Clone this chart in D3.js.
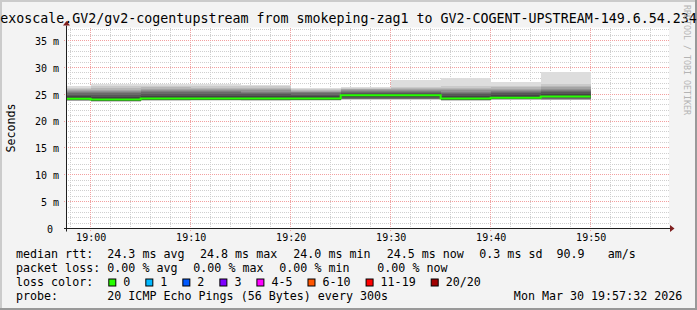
<!DOCTYPE html>
<html>
<head>
<meta charset="utf-8">
<script src="https://cdn.jsdelivr.net/npm/d3@7"></script>
<style>
body { margin: 0; background: #f3f3f3; }
svg text { font-family: "DejaVu Sans Mono", monospace; white-space: pre; }
</style>
</head>
<body>
<svg id="chart"></svg>
<script>
// time window of the graph and the 5 minute steps
const timeStart = "18:57:38";
const timeEnd = "19:57:50";
const stepStarts = ["18:55","19:00","19:05","19:10","19:15","19:20","19:25","19:30","19:35","19:40","19:45"];
const stepEnd = "19:50";

// median rtt per step (ms)
const medians = [24.15, 24.0, 24.2, 24.2, 24.2, 24.2, 24.8, 24.8, 24.2, 24.35, 24.6];
// lost pings per step
const losses = [0, 0, 0, 0, 0, 0, 0, 0, 0, 0, 0];
// the 20 sorted pings of each step (ms)
const pings = [
    [23.7,23.75,23.8,23.83,23.85,23.87,23.89,23.91,23.95,24.15, 24.25,24.6,24.95,25.2,25.4,25.55,25.75,25.95,26.2,26.5],
    [23.55,23.6,23.65,23.68,23.7,23.72,23.74,23.76,23.8,24.0, 24.1,24.5,24.9,25.2,25.4,25.6,25.8,26.1,26.45,26.9],
    [23.75,23.8,23.85,23.88,23.9,23.92,23.94,23.96,24.0,24.2, 24.3,24.7,25.1,25.4,25.6,25.8,26.0,26.3,26.6,27.0],
    [23.8,23.85,23.88,23.9,23.92,23.94,23.96,23.98,24.02,24.2, 24.3,24.7,25.1,25.4,25.6,25.8,26.0,26.25,26.55,26.95],
    [23.75,23.8,23.85,23.88,23.9,23.92,23.94,23.96,24.0,24.2, 24.3,24.65,25.0,25.3,25.5,25.7,25.9,26.15,26.45,26.8],
    [23.8,23.85,23.88,23.9,23.92,23.94,23.96,23.98,24.02,24.2, 24.3,24.6,24.9,25.15,25.35,25.5,25.65,25.8,26.0,26.2],
    [23.95,24.0,24.03,24.05,24.08,24.1,24.15,24.25,24.45,24.8, 24.85,25.05,25.25,25.45,25.6,25.75,25.9,26.0,26.15,26.3],
    [23.95,24.0,24.03,24.05,24.08,24.1,24.15,24.25,24.45,24.8, 24.85,25.05,25.25,25.45,25.6,25.75,25.9,26.1,26.4,27.7],
    [23.75,23.8,23.85,23.88,23.9,23.92,23.94,23.96,24.0,24.2, 24.3,24.65,25.0,25.3,25.5,25.7,25.95,26.25,26.6,28.1],
    [23.9,23.95,24.0,24.03,24.05,24.07,24.09,24.11,24.15,24.35, 24.45,24.8,25.15,25.45,25.65,25.85,26.05,26.3,26.6,27.2],
    [23.85,23.9,23.95,24.0,24.05,24.1,24.15,24.25,24.4,24.6, 24.7,25.0,25.35,25.65,25.85,26.05,26.3,26.6,27.0,29.1]
];

const yMax = 37.43;
const yTicks = [0, 5, 10, 15, 20, 25, 30, 35];

// loss colour legend
const lossLabels = ["0", "1", "2", "3", "4-5", "6-10", "11-19", "20/20"];
const lossLimits = [0, 1, 2, 3, 5, 10, 19, 20];
const lossColors = ["#26ff00", "#00b8ff", "#0059ff", "#7e00ff", "#ff00ff", "#ff5500", "#ff0000", "#a00000"];

// texts
const title = "exoscale.GV2/gv2-cogentupstream from smokeping-zag1 to GV2-COGENT-UPSTREAM-149.6.54.234";
const yTitle = "Seconds";
const watermark = "RRDTOOL / TOBI OETIKER";
const rttRow = ["median rtt:", "24.3 ms avg", "24.8 ms max", "24.0 ms min", "24.5 ms now", "0.3 ms sd", "90.9", "am/s"];
const lossRow = ["packet loss:", "0.00 % avg", "0.00 % max", "0.00 % min", "0.00 % now"];
const probeRow = ["probe:", "20 ICMP Echo Pings (56 Bytes) every 300s"];
const stamp = "Mon Mar 30 19:57:32 2026";


class SmokeChart {

    constructor( config ) {
        this.config = {
            parent: config.parent,
            width: config.width || 697,
            height: config.height || 310,
            plot: config.plot || {left: 67, right: 669, top: 27.5, bottom: 228.5},
        }
        this.init();
    }

    init() {
        let self = this;
        let p = self.config.plot;

        self.svg = d3.select( self.config.parent )
            .attr('width', self.config.width)
            .attr('height', self.config.height);

        const parseT = d3.timeParse("%H:%M:%S");
        self.parseStep = d3.timeParse("%H:%M");

        self.x = d3.scaleTime()
            .domain([parseT(timeStart), parseT(timeEnd)])
            .range([p.left, p.right]);
        self.y = d3.scaleLinear()
            .domain([0, yMax])
            .range([p.bottom, p.top]);
    }

    render() {
        let self = this;
        let p = self.config.plot;
        let W = self.config.width, H = self.config.height;
        const x = self.x, y = self.y;

        // background and frame
        self.svg.append("rect").attr("width", W).attr("height", H).attr("fill", "#f3f3f3");
        self.svg.append("path").attr("d", `M0,0H${W}V2H2V${H}H0Z`).attr("fill", "#cbcbcb");
        self.svg.append("path").attr("d", `M${W},${H}H0V${H-2}H${W-2}V0H${W}Z`).attr("fill", "#999999");
        self.svg.append("rect")
            .attr("x", p.left).attr("y", p.top)
            .attr("width", p.right - p.left).attr("height", p.bottom - p.top)
            .attr("fill", "#ffffff");

        // grid
        const grid = self.svg.append("g").attr("shape-rendering", "crispEdges").attr("stroke-dasharray", "1,1");
        const minorY = d3.range(1, Math.floor(yMax) + 1).filter(v => v % 5 != 0);
        grid.selectAll(".hmin").data(minorY).enter().append("line")
            .attr("x1", p.left - 1).attr("x2", p.right)
            .attr("y1", d => y(d)).attr("y2", d => y(d))
            .attr("stroke", "#cfcfcf");
        const minorX = d3.timeMinute.every(2).range(x.domain()[0], x.domain()[1]).filter(d => d.getMinutes() % 10 != 0);
        grid.selectAll(".vmin").data(minorX).enter().append("line")
            .attr("x1", d => x(d)).attr("x2", d => x(d))
            .attr("y1", p.top).attr("y2", p.bottom + 1)
            .attr("stroke", "#cfcfcf");
        grid.selectAll(".hmaj").data(yTicks.slice(1)).enter().append("line")
            .attr("x1", p.left - 3).attr("x2", p.right)
            .attr("y1", d => y(d)).attr("y2", d => y(d))
            .attr("stroke", "#f2a0a0");
        const majorX = d3.timeMinute.every(10).range(x.domain()[0], x.domain()[1]);
        grid.selectAll(".vmaj").data(majorX).enter().append("line")
            .attr("x1", d => x(d)).attr("x2", d => x(d))
            .attr("y1", p.top).attr("y2", p.bottom + 3)
            .attr("stroke", "#f2a0a0");

        // smoke
        self.svg.append("clipPath").attr("id", "plotclip")
            .append("rect").attr("x", p.left).attr("y", p.top)
            .attr("width", p.right - p.left).attr("height", p.bottom - p.top);
        const plot = self.svg.append("g").attr("clip-path", "url(#plotclip)");

        const pts = stepStarts.map((s, k) => ({t: self.parseStep(s), k: k}));
        pts.push({t: self.parseStep(stepEnd), k: stepStarts.length - 1});

        const n = pings[0].length;
        const half = n / 2;
        for (let i = 1; i <= half; i++) {
            const grey = Math.floor(190 / half * (half - i)) + 50;
            const area = d3.area()
                .curve(d3.curveStepAfter)
                .x(d => x(d.t))
                .y0(d => y(pings[d.k][i - 1]))
                .y1(d => y(pings[d.k][n - i]));
            plot.append("path")
                .datum(pts)
                .attr("d", area)
                .attr("fill", d3.rgb(grey, grey, grey))
                .attr("shape-rendering", "crispEdges");
        }

        // median line coloured by loss
        const lossIndex = l => lossLimits.findIndex(v => l <= v);
        const line = d3.line()
            .curve(d3.curveStepAfter)
            .x(d => x(d.t))
            .y(d => y(medians[d.k]));
        plot.append("path")
            .datum(pts)
            .attr("d", line)
            .attr("fill", "none")
            .attr("stroke", lossColors[lossIndex(d3.max(losses))])
            .attr("stroke-width", 2);

        // axes
        self.svg.append("line")
            .attr("x1", p.left - 3).attr("x2", p.right + 1)
            .attr("y1", p.bottom).attr("y2", p.bottom)
            .attr("stroke", "#1f1f1f");
        self.svg.append("line")
            .attr("x1", p.left - 0.5).attr("x2", p.left - 0.5)
            .attr("y1", p.bottom + 3).attr("y2", p.top - 2)
            .attr("stroke", "#1f1f1f");
        self.svg.append("path")
            .attr("d", `M${p.right + 1},${p.bottom - 3.5}L${p.right + 5.5},${p.bottom}L${p.right + 1},${p.bottom + 3.5}Z`)
            .attr("fill", "#7f1f1f");
        self.svg.append("path")
            .attr("d", `M${p.left - 4},${p.top - 2}L${p.left - 0.5},${p.top - 6.5}L${p.left + 3},${p.top - 2}Z`)
            .attr("fill", "#7f1f1f");

        const yAxis = d3.axisLeft(y)
            .tickValues(yTicks)
            .tickSize(0).tickPadding(0)
            .tickFormat(d => d == 0 ? "0 " : d + " m");
        const gy = self.svg.append("g").attr("transform", `translate(${p.left - 8},0)`).call(yAxis);
        gy.select(".domain").remove();
        gy.selectAll("text").attr("dy", "0.38em").attr("font-size", 10).attr("font-family", null).attr("fill", "#000");

        const xAxis = d3.axisBottom(x)
            .ticks(d3.timeMinute.every(10))
            .tickFormat(d3.timeFormat("%H:%M"))
            .tickSize(0).tickPadding(0);
        const gx = self.svg.append("g").attr("transform", `translate(0,${p.bottom + 5})`).call(xAxis);
        gx.select(".domain").remove();
        gx.selectAll("text").attr("font-size", 10).attr("font-family", null).attr("fill", "#000");

        // titles
        self.svg.append("text")
            .attr("x", W / 2).attr("y", 23)
            .attr("text-anchor", "middle")
            .attr("font-size", 13.3)
            .text(title);
        self.svg.append("text")
            .attr("transform", `translate(15,${(p.top + p.bottom) / 2}) rotate(-90)`)
            .attr("text-anchor", "middle")
            .attr("font-size", 11.67)
            .text(yTitle);
        self.svg.append("text")
            .attr("transform", `translate(683.5,5) rotate(90)`)
            .attr("font-size", 8.3)
            .attr("fill", "#b4b4b4")
            .text(watermark);

        // legend
        const rowY = [257.6, 271.8, 286, 300.2];
        const legend = self.svg.append("g").attr("font-size", 11.67).attr("fill", "#000");
        const rttX = [16, 107.3, 200, 293.3, 386.7, 479.3, 556.5, 607.7];
        const lossX = [16, 107.3, 193.3, 279.3, 377.3];
        legend.selectAll(".rtt").data(rttRow).enter().append("text")
            .attr("x", (d, i) => rttX[i]).attr("y", rowY[0]).text(d => d);
        legend.selectAll(".loss").data(lossRow).enter().append("text")
            .attr("x", (d, i) => lossX[i]).attr("y", rowY[1]).text(d => d);

        legend.append("text").attr("x", 16).attr("y", rowY[2]).text("loss color:");
        const charW = 11.67 * 0.602;
        let bx = 108.3;
        lossLabels.forEach((lab, i) => {
            legend.append("rect")
                .attr("x", bx + 0.5).attr("y", rowY[2] - 7)
                .attr("width", 7).attr("height", 7)
                .attr("fill", lossColors[i])
                .attr("stroke", "#000").attr("stroke-width", 1);
            legend.append("text").attr("x", bx + 15).attr("y", rowY[2]).text(lab);
            bx = bx + 15 + lab.length * charW + 15;
        });

        legend.append("text").attr("x", 16).attr("y", rowY[3]).text(probeRow[0]);
        legend.append("text").attr("x", 107.3).attr("y", rowY[3]).text(probeRow[1]);
        legend.append("text").attr("x", 682.3).attr("y", rowY[3]).attr("text-anchor", "end").text(stamp);
    }
}

let chart = new SmokeChart({ parent: '#chart', width: 697, height: 310 });
chart.render();
</script>
</body>
</html>
